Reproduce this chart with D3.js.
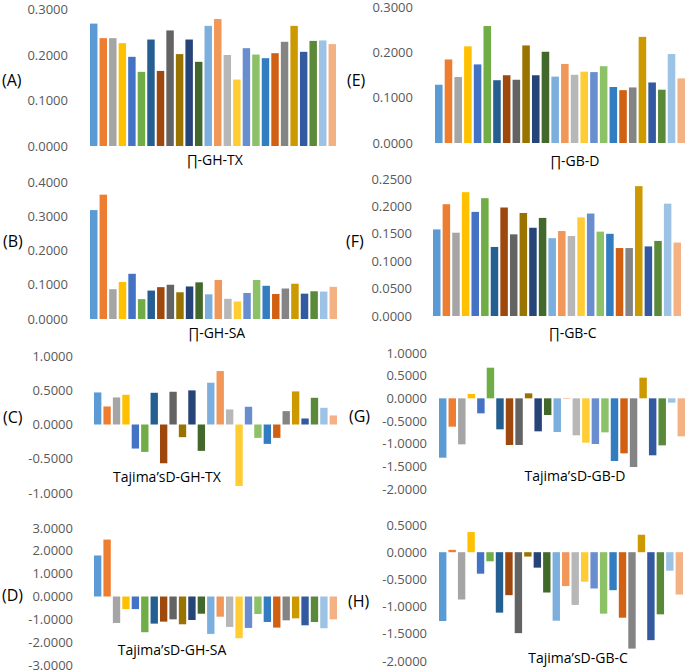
<!DOCTYPE html>
<html><head><meta charset="utf-8">
<script src="https://cdn.jsdelivr.net/npm/d3@7"></script>
<style>body{margin:0;background:#fff}svg{display:block}text{font-family:"Open Sans",sans-serif}</style>
</head><body><svg id="c" width="685" height="672"></svg>
<script>
const categories = ["1","2","3","4","5","6","7","8","9","10","11","12","13","14","15","16","17","18","19","20","21","22","23","24","25","26"];
const barColors = ["#5B9BD5","#ED7D31","#A5A5A5","#FFC000","#4472C4","#70AD47",
  "#255E91","#9E480E","#636363","#997300","#264478","#43682B",
  "#7CAFDD","#F1975A","#B7B7B7","#FFCD33","#698ED0","#8CC168",
  "#327DC2","#D26012","#848484","#CC9A00","#335AA0","#5A8A39",
  "#9CC3E5","#F4B183"];

const piGHTX = [0.269,0.237,0.237,0.226,0.196,0.163,0.234,0.165,0.254,0.202,0.234,0.185,0.264,0.279,0.200,0.146,0.215,0.201,0.193,0.204,0.229,0.264,0.207,0.231,0.232,0.224];
const piGHSA = [0.318,0.363,0.087,0.108,0.132,0.058,0.083,0.093,0.100,0.078,0.095,0.107,0.072,0.114,0.059,0.051,0.076,0.114,0.097,0.073,0.089,0.103,0.074,0.081,0.080,0.094];
const tajGHTX = [0.468,0.263,0.395,0.434,-0.351,-0.400,0.463,-0.566,0.478,-0.185,0.498,-0.385,0.610,0.780,0.220,-0.898,0.259,-0.195,-0.283,-0.195,0.195,0.483,0.088,0.390,0.244,0.132];
const tajGHSA = [1.797,2.493,-1.159,-0.551,-0.551,-1.565,-1.188,-1.101,-1.000,-1.217,-1.029,-0.754,-1.638,-0.884,-1.333,-1.826,-1.377,-0.768,-1.116,-1.362,-1.043,-0.957,-1.261,-1.116,-1.391,-1.000];
const piGBD = [0.129,0.185,0.146,0.214,0.174,0.259,0.139,0.150,0.140,0.216,0.150,0.202,0.147,0.175,0.151,0.158,0.157,0.170,0.124,0.117,0.123,0.235,0.134,0.118,0.197,0.143];
const piGBC = [0.158,0.204,0.152,0.226,0.190,0.215,0.126,0.198,0.149,0.188,0.161,0.179,0.142,0.155,0.146,0.180,0.187,0.154,0.150,0.124,0.124,0.237,0.127,0.137,0.205,0.134];
const tajGBD = [-1.309,-0.625,-1.015,0.096,-0.331,0.676,-0.684,-1.029,-1.029,0.110,-0.728,-0.368,-0.743,-0.010,-0.816,-0.978,-1.007,-0.750,-1.382,-1.213,-1.515,0.456,-1.257,-1.037,-0.096,-0.838];
const tajGBC = [-1.265,0.043,-0.870,0.370,-0.395,-0.167,-1.111,-0.790,-1.488,-0.080,-0.284,-0.741,-1.259,-0.623,-0.969,-0.543,-0.667,-1.130,-0.698,-1.204,-1.772,0.321,-1.617,-1.142,-0.340,-0.778];

const ticksA = [0,0.1,0.2,0.3];
const ticksB = [0,0.1,0.2,0.3,0.4];
const ticksC = [-1,-0.5,0,0.5,1];
const ticksD = [-3,-2,-1,0,1,2,3];
const ticksE = [0,0.1,0.2,0.3];
const ticksF = [0,0.05,0.1,0.15,0.2,0.25];
const ticksG = [-2,-1.5,-1,-0.5,0,0.5,1];
const ticksH = [-2,-1.5,-1,-0.5,0,0.5];

const panelLabels = ["(A)","(B)","(C)","(D)","(E)","(F)","(G)","(H)"];
const axisTitles = ["\u220F-GH-TX","\u220F-GH-SA","Tajima\u2019sD-GH-TX","Tajima\u2019sD-GH-SA","\u220F-GB-D","\u220F-GB-C","Tajima\u2019sD-GB-D","Tajima\u2019sD-GB-C"];

// layout (positions only)
const layout = [
  {vals:piGHTX, ticks:ticksA, dom:[0,0.3],  yr:[146,9.5], bx:[90,336],  tx:68,  lab:[2,80],   tt:[215,165]},
  {vals:piGHSA, ticks:ticksB, dom:[0,0.4],  yr:[319,182], bx:[90,337],  tx:68,  lab:[3,241],  tt:[217,338]},
  {vals:tajGHTX,ticks:ticksC, dom:[-1,1],   yr:[493,356], bx:[94,337],  tx:73,  lab:[3,417],  tt:[167,482]},
  {vals:tajGHSA,ticks:ticksD, dom:[-3,3],   yr:[665,528], bx:[94,337],  tx:73,  lab:[2,595],  tt:[172,655]},
  {vals:piGBD,  ticks:ticksE, dom:[0,0.3],  yr:[143,7.5], bx:[435,685], tx:413, lab:[347,80], tt:[575,166]},
  {vals:piGBC,  ticks:ticksF, dom:[0,0.25], yr:[316,179], bx:[433,681], tx:412, lab:[346,241],tt:[573,338]},
  {vals:tajGBD, ticks:ticksG, dom:[-2,1],   yr:[489,353], bx:[439,685], tx:427, lab:[349,416],tt:[575,481]},
  {vals:tajGBC, ticks:ticksH, dom:[-2,0.5], yr:[661,525], bx:[439,683], tx:427, lab:[348,601],tt:[578,663]}
];

const svg = d3.select("#c");
const fmt = v => (v < -1e-9 ? "-" : "") + Math.abs(v).toFixed(4);
const padIn = 0.22;

layout.forEach((p, i) => {
  const g = svg.append("g");
  const step = (p.bx[1]-p.bx[0])/(categories.length - padIn);
  const x = d3.scaleBand().domain(categories)
    .range([p.bx[0]-step*padIn/2, p.bx[1]+step*padIn/2])
    .paddingInner(padIn).paddingOuter(padIn/2);
  const y = d3.scaleLinear().domain(p.dom).range(p.yr);

  g.selectAll("text.tick").data(p.ticks).join("text")
    .attr("class","tick")
    .attr("x", p.tx).attr("y", d => y(d))
    .attr("dy","0.35em")
    .attr("text-anchor","end")
    .attr("font-size","13px").attr("fill","#595959")
    .text(fmt);

  g.selectAll("rect").data(p.vals).join("rect")
    .attr("x", (d,j) => x(categories[j]))
    .attr("width", x.bandwidth())
    .attr("y", d => Math.min(y(d), y(0)))
    .attr("height", d => Math.abs(y(d) - y(0)))
    .attr("fill", (d,j) => barColors[j]);

  g.append("text").attr("x", p.lab[0]).attr("y", p.lab[1]).attr("dy","0.35em")
    .attr("font-size","16px").attr("fill","#000").text(panelLabels[i]);

  g.append("text").attr("x", p.tt[0]).attr("y", p.tt[1])
    .attr("text-anchor","middle").attr("font-size","14px").attr("fill","#000")
    .text(axisTitles[i]);
});
</script></body></html>
